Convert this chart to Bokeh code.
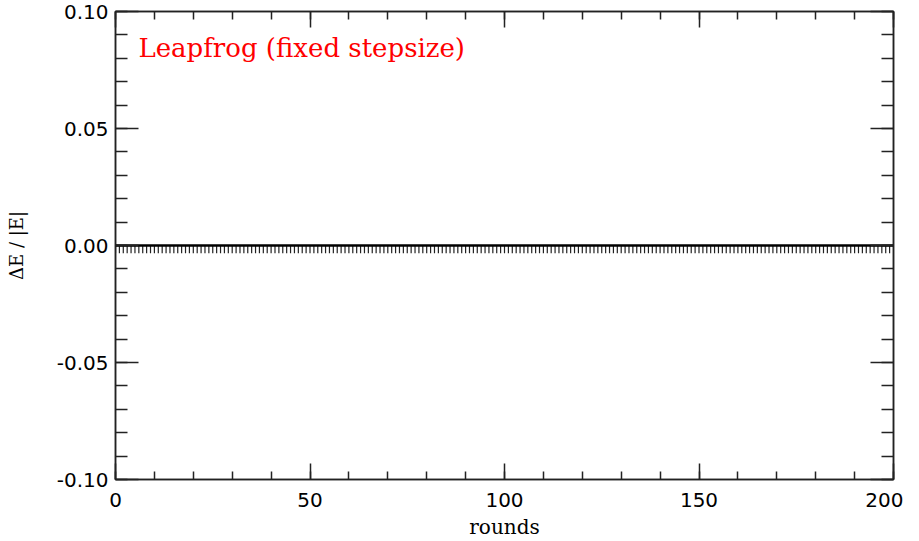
from bokeh.plotting import figure
from bokeh.models import LinearAxis, Range1d, Label, FixedTicker, PrintfTickFormatter
from bokeh.embed import file_html
from bokeh.resources import INLINE

# ---- data ----
rounds = list(range(0, 201))            # sample rounds along the run
energy_error = [0.0] * len(rounds)       # relative energy error at start of round (~0)
spike_rounds = list(range(0, 200))       # the periodic dips once per round
spike_depth = [-0.0033] * len(spike_rounds)
spike_top = [0.0] * len(spike_rounds)

x_major = [0, 50, 100, 150, 200]
x_minor = [v for v in range(0, 201, 10)]
y_major = [-0.10, -0.05, 0.0, 0.05, 0.10]
y_minor = [round(-0.10 + 0.01 * i, 2) for i in range(21)]

title_text = "Leapfrog (fixed stepsize)"
x_label = "rounds"
y_label = "ΔE / |E|"

# ---- figure ----
p = figure(frame_width=778, frame_height=468,
           x_range=Range1d(0, 200), y_range=Range1d(-0.1, 0.1),
           output_backend="svg", toolbar_location=None,
           min_border_left=115, min_border_top=11, min_border_right=10, min_border_bottom=46,
           x_axis_location=None, y_axis_location=None)
p.xgrid.visible = False
p.ygrid.visible = False
p.outline_line_color = "#222222"
p.outline_line_width = 1.5
p.background_fill_color = "white"
p.border_fill_color = "white"

AX = "#222222"

def style_axis(ax, major_in, minor_in, labels=True):
    ax.axis_line_color = AX
    ax.axis_line_width = 1.5
    ax.major_tick_line_color = AX
    ax.minor_tick_line_color = AX
    ax.major_tick_line_width = 1.5
    ax.minor_tick_line_width = 1.5
    ax.major_tick_in = major_in
    ax.major_tick_out = 0
    ax.minor_tick_in = minor_in
    ax.minor_tick_out = 0
    if labels:
        ax.major_label_text_font = "DejaVu Sans"
        ax.major_label_text_font_size = "20px"
        ax.major_label_text_color = "black"
    else:
        ax.major_label_text_color = None
        ax.major_label_text_font_size = "8px"
        ax.major_label_standoff = 0

xt = FixedTicker(ticks=x_major, minor_ticks=x_minor)
yt = FixedTicker(ticks=y_major, minor_ticks=y_minor)

xb = LinearAxis(ticker=xt, axis_label=x_label)
style_axis(xb, 16, 8)
xb.major_label_standoff = 13
xb.axis_label_text_font = "DejaVu Serif"
xb.axis_label_text_font_size = "20px"
xb.axis_label_text_font_style = "normal"
xb.axis_label_text_color = "black"
xb.axis_label_standoff = 5
p.add_layout(xb, "below")

xa = LinearAxis(ticker=xt)
style_axis(xa, 16, 8, labels=False)
p.add_layout(xa, "above")

yl = LinearAxis(ticker=yt, axis_label=y_label, formatter=PrintfTickFormatter(format="%.2f"))
style_axis(yl, 23, 12)
yl.major_label_standoff = 7
yl.axis_label_text_font = "DejaVu Serif"
yl.axis_label_text_font_size = "18px"
yl.axis_label_text_font_style = "normal"
yl.axis_label_text_color = "black"
yl.axis_label_standoff = 27
p.add_layout(yl, "left")

yr = LinearAxis(ticker=yt)
style_axis(yr, 23, 12, labels=False)
p.add_layout(yr, "right")

# ---- data marks ----
p.segment(x0=spike_rounds, y0=spike_top, x1=spike_rounds, y1=spike_depth,
          line_color="#222222", line_width=1.2)
p.line(rounds, energy_error, line_color="black", line_width=2.5)

p.add_layout(Label(x=5.9, y=0.0846, text=title_text, text_color="red",
                   text_font="DejaVu Serif", text_font_size="26px",
                   text_baseline="alphabetic", text_align="left"))

open("out.html", "w").write(file_html(p, INLINE))
